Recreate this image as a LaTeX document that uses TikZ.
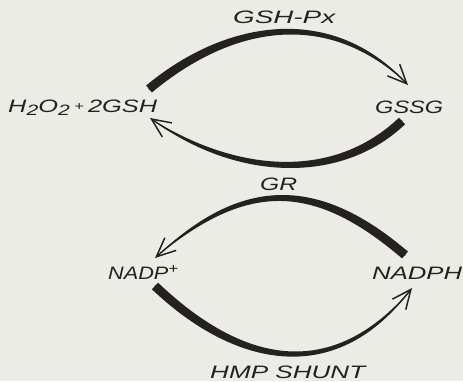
\documentclass[tikz,border=0pt]{standalone}
\usepackage{fontspec}
\setmainfont{Liberation Sans}
\usetikzlibrary{arrows.meta,calc}
\definecolor{paper}{RGB}{236,236,231}
\definecolor{ink}{RGB}{36,33,31}
% lettering stretched to a given width
\newcommand\lab[2]{\resizebox{#1}{\height}{#2}}
\newcommand\lowtwo{\raisebox{-3pt}{\fontsize{15}{15}\selectfont 2}}
% tapered band along a cubic: start, control 1, control 2, end, half width at start
\newcommand\taperfill[5]{%
  \fill[ink] ($(#1)!#5!90:(#2)$) .. controls ($(#2)!#5!-90:(#1)$) and ($(#3)!#5!90:(#4)$) .. (#4)
     .. controls ($(#3)!#5!-90:(#4)$) and ($(#2)!#5!90:(#1)$) .. ($(#1)!#5!-90:(#2)$) -- cycle;}
\begin{document}
\begin{tikzpicture}[x=1pt,y=-1pt,
  lettering/.style={anchor=base west,inner sep=0pt,text=ink,font=\fontsize{18}{18}\selectfont\itshape},
  tail/.style={draw=ink,line width=1.4pt,line cap=round,
    -{Straight Barb[length=19pt,width=17pt,line width=1.5pt]}}]
\fill[paper] (0,0) rectangle (463,381);
\useasboundingbox (0,0) rectangle (463,381);

% labels
\node[lettering] (gsh)   at (8,112)   {\lab{149pt}{H\lowtwo O\lowtwo\,\raisebox{2pt}{\fontsize{12}{12}\selectfont+}\,2GSH}};
\node[lettering] (gssg)  at (375,113) {\lab{68pt}{GSSG}};
\node[lettering] (gpx)   at (233,23)  {\lab{102pt}{GSH-Px}};
\node[lettering] (gr)    at (260,190) {\lab{37pt}{GR}};
\node[lettering] (nadp)  at (108,279) {\lab{70pt}{NADP\raisebox{6pt}{\fontsize{14}{14}\selectfont+}}};
\node[lettering] (nadph) at (372,279) {\lab{90pt}{NADPH}};
\node[lettering] (hmp)   at (210,378) {\lab{155pt}{HMP SHUNT}};

% arc ends and control points
\coordinate (a1s) at (149,89);  \coordinate (a1b) at (232,20);
\coordinate (a1c) at (333,7);   \coordinate (a1e) at (408,85);
\coordinate (a2s) at (402,121); \coordinate (a2b) at (337,183);
\coordinate (a2c) at (235,177); \coordinate (a2e) at (150,118);
\coordinate (a3s) at (405,255); \coordinate (a3b) at (315,178);
\coordinate (a3c) at (243,179); \coordinate (a3e) at (155,258);
\coordinate (a4s) at (155,286); \coordinate (a4b) at (238,365);
\coordinate (a4c) at (334,387); \coordinate (a4e) at (412,288);

% GSH-Px: H2O2 + 2GSH -> GSSG
\taperfill{a1s}{a1b}{a1c}{a1e}{4.5pt}
\draw[tail] (a1s) .. controls (a1b) and (a1c) .. (a1e);
% GR: GSSG -> 2GSH
\taperfill{a2s}{a2b}{a2c}{a2e}{4.5pt}
\draw[tail] (a2s) .. controls (a2b) and (a2c) .. (a2e);
% NADPH -> NADP+
\taperfill{a3s}{a3b}{a3c}{a3e}{4.5pt}
\draw[tail] (a3s) .. controls (a3b) and (a3c) .. (a3e);
% HMP shunt: NADP+ -> NADPH
\taperfill{a4s}{a4b}{a4c}{a4e}{4.5pt}
\draw[tail] (a4s) .. controls (a4b) and (a4c) .. (a4e);
\end{tikzpicture}
\end{document}
